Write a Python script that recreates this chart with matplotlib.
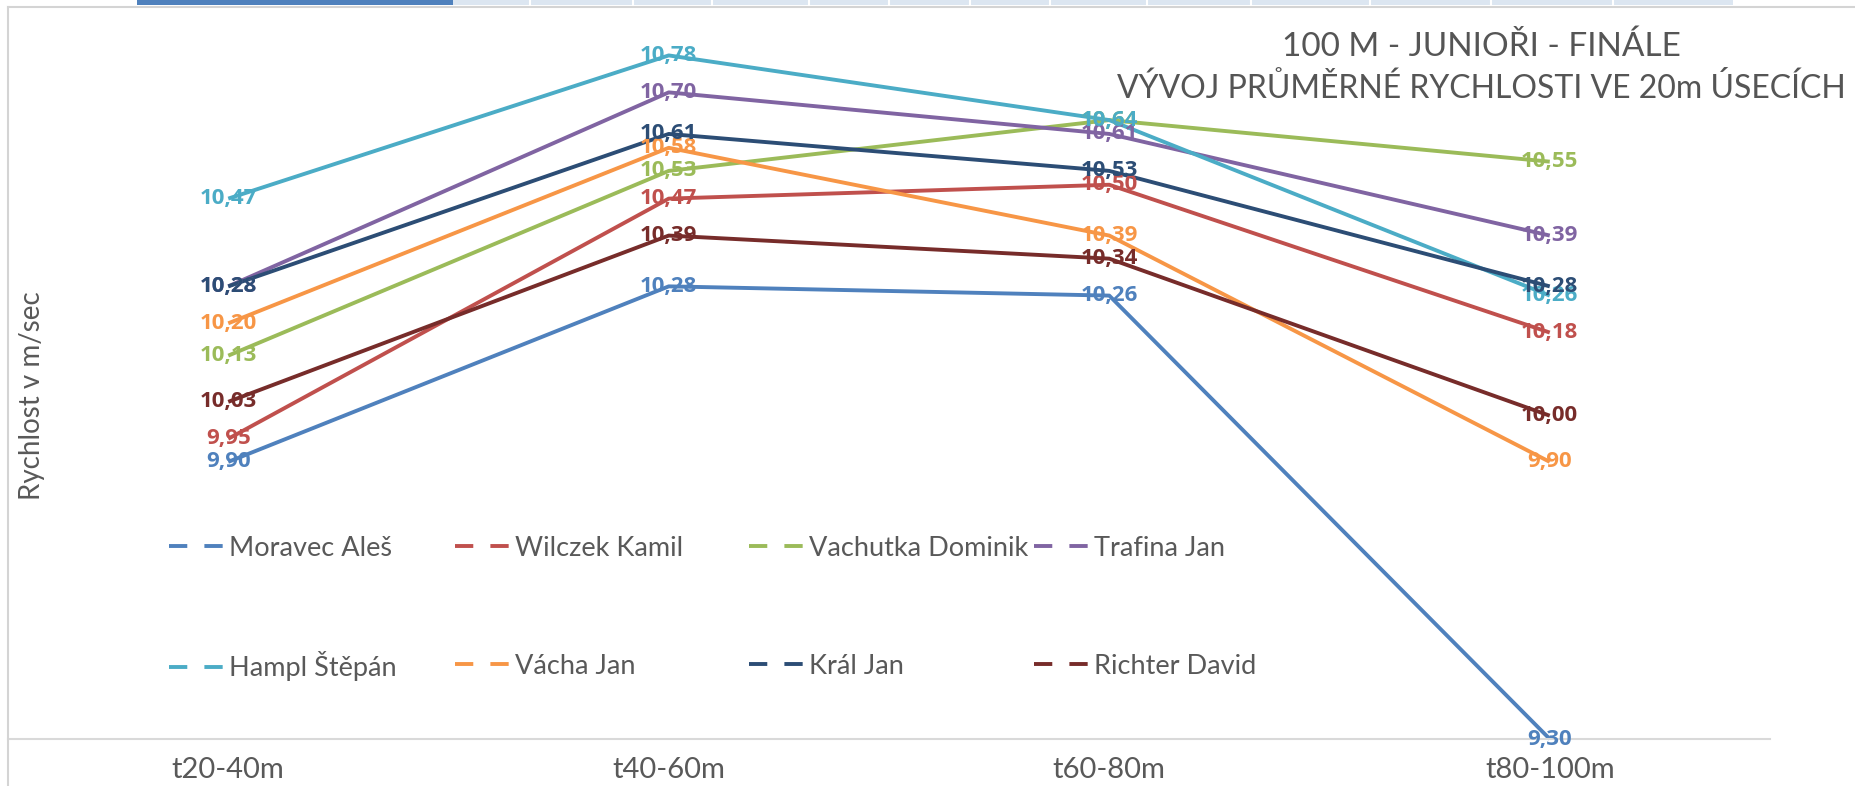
import matplotlib
matplotlib.use("Agg")
import matplotlib.pyplot as plt
from matplotlib.lines import Line2D
from matplotlib.patches import Rectangle

plt.rcParams['font.family'] = ['Lato', 'DejaVu Sans']

# data
segments = ["t20-40m", "t40-60m", "t60-80m", "t80-100m"]
names = ["Moravec Aleš", "Wilczek Kamil", "Vachutka Dominik", "Trafina Jan",
         "Hampl Štěpán", "Vácha Jan", "Král Jan", "Richter David"]
moravec = [9.90, 10.28, 10.26, 9.30]
wilczek = [9.95, 10.47, 10.50, 10.18]
vachutka = [10.13, 10.53, 10.64, 10.55]
trafina = [10.28, 10.70, 10.61, 10.39]
hampl = [10.47, 10.78, 10.64, 10.26]
vacha = [10.20, 10.58, 10.39, 9.90]
kral = [10.28, 10.61, 10.53, 10.28]
richter = [10.03, 10.39, 10.34, 10.00]
series = [moravec, wilczek, vachutka, trafina, hampl, vacha, kral, richter]
colors = ["#4F81BD", "#C0504D", "#9BBB59", "#8064A2",
          "#4BACC6", "#F79646", "#2C4D75", "#772C2A"]

W, H = 1856, 786
txt = "#595959"
fig = plt.figure(figsize=(W / 100, H / 100), dpi=100)
ax = fig.add_axes([8 / W, 1 - 739 / H, 1762 / W, 739 / H])
ax.set_xlim(-0.5, 3.5)
ax.set_ylim(9.3, 10.9)
for s in ["top", "left", "right"]:
    ax.spines[s].set_visible(False)
ax.spines["bottom"].set_color("#d9d9d9")
ax.spines["bottom"].set_linewidth(1.5)
ax.set_yticks([])
ax.set_xticks(range(len(segments)))
ax.set_xticklabels(segments, fontsize=21, color=txt)
ax.tick_params(axis="x", length=0, pad=13)

x = list(range(len(segments)))
for vals, c in zip(series, colors):
    ax.plot(x, vals, color=c, lw=2.8, clip_on=False, solid_capstyle="butt")
for vals, c in zip(series, colors):
    for xi, v in zip(x, vals):
        ax.text(xi, v, f"{v:.2f}".replace(".", ","), ha="center", va="center",
                color=c, fontsize=16, fontweight="bold", family="Open Sans",
                clip_on=False)

# titles
fig.text(1481 / W, 1 - 47 / H, "100 M - JUNIOŘI - FINÁLE", ha="center", va="center",
         fontsize=24, color="#555555")
fig.text(1481 / W, 1 - 88 / H, "VÝVOJ PRŮMĚRNÉ RYCHLOSTI VE 20m ÚSECÍCH", ha="center",
         va="center", fontsize=23, color="#555555")
fig.text(32 / W, 1 - 396 / H, "Rychlost v m/sec", rotation=90, ha="center", va="center",
         fontsize=20, color=txt)

# legend, 4 per row like excel
leg_x = [169, 455, 749, 1034]
leg_y = [548, 666]
for i, (name, c) in enumerate(zip(names, colors)):
    h = Line2D([], [], color=c, lw=2.8, dashes=(4.7, 4.4), dash_capstyle="butt")
    fig.legend(handles=[h], labels=[name], loc="center left",
               bbox_to_anchor=(leg_x[i % 4] / W, 1 - leg_y[i // 4] / H),
               frameon=False, fontsize=19.5, labelcolor=txt, handlelength=2.0,
               handletextpad=0.2, borderpad=0, borderaxespad=0)

# chart border and the bit of sheet header above it
fig.add_artist(Line2D([8 / W, 1], [1 - 7 / H, 1 - 7 / H], color="#d4d4d4", lw=1.5))
fig.add_artist(Line2D([8 / W, 8 / W], [0, 1 - 7 / H], color="#d4d4d4", lw=1.5))
fig.add_artist(Rectangle((137 / W, 1 - 5 / H), 316 / W, 5 / H, color="#4F81BD", lw=0))
fig.add_artist(Rectangle((453 / W, 1 - 5 / H), 1280 / W, 5 / H, color="#DCE6F1", lw=0))
for sx in [530, 633, 712, 809, 889, 970, 1050, 1147, 1251, 1370, 1491, 1613]:
    fig.add_artist(Line2D([sx / W, sx / W], [1 - 5 / H, 1], color="white", lw=1.5))

fig.savefig("out.png", dpi=100)
